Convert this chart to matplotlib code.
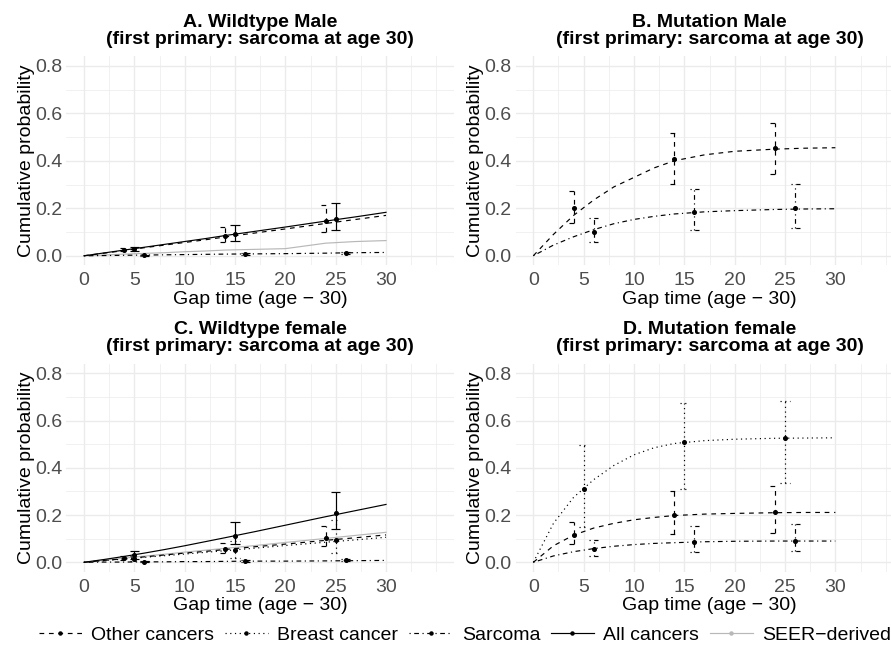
import matplotlib
matplotlib.use("Agg")
import matplotlib.pyplot as plt
from matplotlib.lines import Line2D
import numpy as np

plt.rcParams['font.family'] = ['Liberation Sans', 'DejaVu Sans']

# time grid the fitted curves were read on
gap_grid = [0, 2, 4, 6, 8, 10, 12, 14, 17, 20, 24, 27, 30]
eval_times = [5, 15, 25]

# A. wildtype male
wm_other_curve = [0, 0.011, 0.022, 0.034, 0.045, 0.056, 0.067, 0.079, 0.096, 0.113, 0.136, 0.153, 0.170]
wm_all_curve = [0, 0.012, 0.024, 0.036, 0.048, 0.060, 0.072, 0.085, 0.103, 0.121, 0.146, 0.164, 0.183]
wm_sarc_curve = [0, 0.001, 0.002, 0.003, 0.004, 0.005, 0.006, 0.007, 0.008, 0.009, 0.011, 0.013, 0.014]
wm_seer_curve = [0, 0.003, 0.007, 0.010, 0.013, 0.017, 0.020, 0.024, 0.027, 0.030, 0.053, 0.060, 0.064]
wm_other_est = [0.025, 0.084, 0.145]
wm_other_lo = [0.018, 0.058, 0.098]
wm_other_hi = [0.033, 0.123, 0.215]
wm_all_est = [0.028, 0.091, 0.154]
wm_all_lo = [0.020, 0.063, 0.108]
wm_all_hi = [0.039, 0.130, 0.222]
wm_sarc_est = [0.003, 0.008, 0.012]
wm_sarc_lo = [0.001, 0.005, 0.008]
wm_sarc_hi = [0.005, 0.011, 0.016]

# B. mutation male
mm_other_curve = [0, 0.090, 0.170, 0.235, 0.290, 0.330, 0.370, 0.400, 0.425, 0.440, 0.449, 0.453, 0.455]
mm_sarc_curve = [0, 0.045, 0.080, 0.110, 0.135, 0.153, 0.166, 0.176, 0.185, 0.190, 0.195, 0.197, 0.198]
mm_other_est = [0.200, 0.407, 0.452]
mm_other_lo = [0.140, 0.302, 0.344]
mm_other_hi = [0.274, 0.516, 0.561]
mm_sarc_est = [0.098, 0.185, 0.200]
mm_sarc_lo = [0.056, 0.108, 0.119]
mm_sarc_hi = [0.157, 0.280, 0.302]

# C. wildtype female
wf_other_curve = [0, 0.008, 0.015, 0.023, 0.031, 0.039, 0.046, 0.054, 0.066, 0.077, 0.093, 0.104, 0.116]
wf_breast_curve = [0, 0.007, 0.014, 0.021, 0.028, 0.035, 0.042, 0.049, 0.060, 0.071, 0.085, 0.095, 0.106]
wf_all_curve = [0, 0.012, 0.025, 0.039, 0.054, 0.070, 0.087, 0.104, 0.130, 0.157, 0.193, 0.219, 0.245]
wf_sarc_curve = [0, 0.001, 0.001, 0.002, 0.002, 0.003, 0.003, 0.004, 0.005, 0.005, 0.006, 0.007, 0.008]
wf_seer_curve = [0, 0.009, 0.018, 0.026, 0.034, 0.043, 0.051, 0.059, 0.071, 0.084, 0.101, 0.114, 0.127]
wf_other_est = [0.017, 0.056, 0.104]
wf_other_lo = [0.010, 0.038, 0.069]
wf_other_hi = [0.026, 0.083, 0.155]
wf_breast_est = [0.014, 0.052, 0.094]
wf_breast_lo = [0.005, 0.020, 0.040]
wf_breast_hi = [0.026, 0.090, 0.180]
wf_all_est = [0.031, 0.113, 0.207]
wf_all_lo = [0.016, 0.076, 0.140]
wf_all_hi = [0.049, 0.172, 0.296]
wf_sarc_est = [0.002, 0.005, 0.008]
wf_sarc_lo = [0.001, 0.003, 0.005]
wf_sarc_hi = [0.004, 0.008, 0.012]

# D. mutation female
mf_breast_curve = [0, 0.165, 0.275, 0.350, 0.410, 0.455, 0.485, 0.503, 0.515, 0.521, 0.525, 0.526, 0.527]
mf_other_curve = [0, 0.070, 0.115, 0.145, 0.165, 0.180, 0.190, 0.198, 0.204, 0.207, 0.210, 0.211, 0.211]
mf_sarc_curve = [0, 0.027, 0.045, 0.058, 0.068, 0.075, 0.080, 0.083, 0.087, 0.089, 0.090, 0.090, 0.090]
mf_breast_est = [0.310, 0.510, 0.527]
mf_breast_lo = [0.150, 0.309, 0.334]
mf_breast_hi = [0.497, 0.676, 0.684]
mf_other_est = [0.116, 0.200, 0.212]
mf_other_lo = [0.076, 0.120, 0.123]
mf_other_hi = [0.172, 0.302, 0.324]
mf_sarc_est = [0.056, 0.087, 0.090]
mf_sarc_lo = [0.028, 0.045, 0.048]
mf_sarc_hi = [0.094, 0.155, 0.162]

titles = ["A. Wildtype Male", "B. Mutation Male", "C. Wildtype female", "D. Mutation female"]
subtitle = "(first primary: sarcoma at age 30)"
series_names = ["Other cancers", "Breast cancer", "Sarcoma", "All cancers", "SEER\u2212derived"]

# styles: linestyle, dodge offset, colour
style = {
    "Other cancers": ((0, (4, 4)), -1, "black"),
    "Breast cancer": ((0, (1, 3)), 0, "black"),
    "Sarcoma": ((0, (1, 3, 4, 3)), 1, "black"),
    "All cancers": ("-", 0, "black"),
    "SEER\u2212derived": ("-", 0, "#b8b8b8"),
}

panels = [
    [("SEER\u2212derived", wm_seer_curve, None, None, None),
     ("Other cancers", wm_other_curve, wm_other_est, wm_other_lo, wm_other_hi),
     ("Sarcoma", wm_sarc_curve, wm_sarc_est, wm_sarc_lo, wm_sarc_hi),
     ("All cancers", wm_all_curve, wm_all_est, wm_all_lo, wm_all_hi)],
    [("Other cancers", mm_other_curve, mm_other_est, mm_other_lo, mm_other_hi),
     ("Sarcoma", mm_sarc_curve, mm_sarc_est, mm_sarc_lo, mm_sarc_hi)],
    [("SEER\u2212derived", wf_seer_curve, None, None, None),
     ("Other cancers", wf_other_curve, wf_other_est, wf_other_lo, wf_other_hi),
     ("Breast cancer", wf_breast_curve, wf_breast_est, wf_breast_lo, wf_breast_hi),
     ("Sarcoma", wf_sarc_curve, wf_sarc_est, wf_sarc_lo, wf_sarc_hi),
     ("All cancers", wf_all_curve, wf_all_est, wf_all_lo, wf_all_hi)],
    [("Other cancers", mf_other_curve, mf_other_est, mf_other_lo, mf_other_hi),
     ("Breast cancer", mf_breast_curve, mf_breast_est, mf_breast_lo, mf_breast_hi),
     ("Sarcoma", mf_sarc_curve, mf_sarc_est, mf_sarc_lo, mf_sarc_hi)],
]

fig = plt.figure(figsize=(8.91, 6.47), dpi=100)
positions = [
    [0.0745, 0.590, 0.435, 0.323],
    [0.5788, 0.590, 0.435, 0.323],
    [0.0745, 0.1163, 0.435, 0.3213],
    [0.5788, 0.1163, 0.435, 0.3213],
]
lw = 0.85
cap = 0.45
grid_col = "#ebebeb"

for i, pos in enumerate(positions):
    ax = fig.add_axes(pos)
    ax.set_xlim(-1.75, 36.75)
    ax.set_ylim(-0.04, 0.84)
    ax.set_xticks([0, 5, 10, 15, 20, 25, 30])
    ax.set_xticks([2.5, 7.5, 12.5, 17.5, 22.5, 27.5, 32.5, 35], minor=True)
    ax.set_yticks([0, 0.2, 0.4, 0.6, 0.8])
    ax.set_yticks([0.1, 0.3, 0.5, 0.7], minor=True)
    ax.set_yticklabels(["0.0", "0.2", "0.4", "0.6", "0.8"])
    ax.grid(which="major", color=grid_col, linewidth=1.0)
    ax.grid(which="minor", color=grid_col, linewidth=0.5)
    ax.set_axisbelow(True)
    for s in ax.spines.values():
        s.set_visible(False)
    ax.tick_params(which="both", length=0, labelsize=14, labelcolor="#4d4d4d")
    ax.tick_params(axis="x", pad=5)
    ax.tick_params(axis="y", pad=3)
    ax.set_xlabel("Gap time (age \u2212 30)", fontsize=14, labelpad=1)
    ax.set_ylabel("Cumulative probability", fontsize=14, labelpad=0)
    ax.set_title(titles[i] + "\n" + subtitle, fontsize=14, fontweight="bold",
                 pad=9, linespacing=1.02)

    for name, curve, est, lo, hi in panels[i]:
        ls, dodge, col = style[name]
        ax.plot(gap_grid, curve, color=col, linestyle=ls, linewidth=lw)
        if est is None:
            continue
        xs = np.array(eval_times) + dodge
        ax.vlines(xs, lo, hi, colors=col, linestyles=ls, linewidth=lw)
        ax.hlines(lo, xs - cap, xs + cap, colors=col, linestyles=ls, linewidth=lw)
        ax.hlines(hi, xs - cap, xs + cap, colors=col, linestyles=ls, linewidth=lw)
        ax.plot(xs, est, "o", color=col, markersize=2.6, linestyle="none")

handles = []
for name in series_names:
    ls, dodge, col = style[name]
    handles.append(Line2D([0], [0], color=col, linestyle=ls, linewidth=lw,
                          marker="o", markersize=2.2))
fig.legend(handles, series_names, loc="center", bbox_to_anchor=(0.522, 0.019),
           ncol=5, frameon=False, fontsize=14, handlelength=2.2,
           handletextpad=0.5, columnspacing=0.55, borderpad=0, borderaxespad=0)

fig.savefig("out.png", dpi=100)
